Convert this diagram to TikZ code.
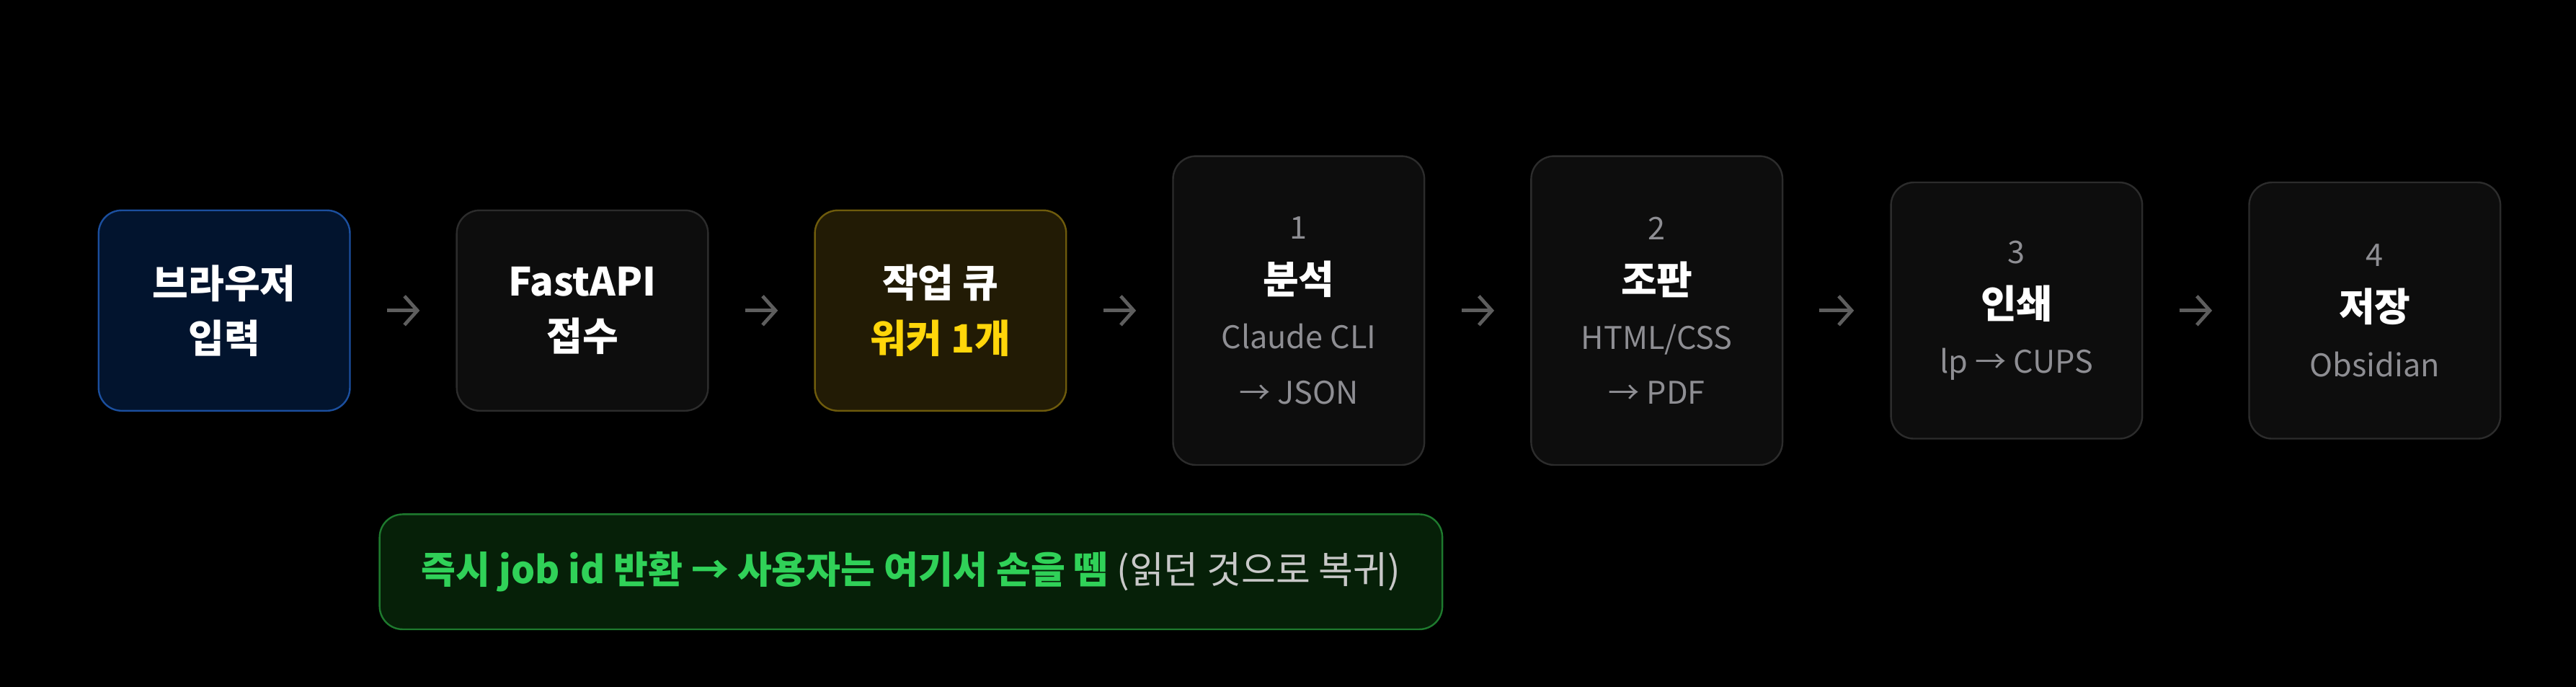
\documentclass[tikz,border=0pt]{standalone}
\usepackage{fontspec}
\setmainfont{Noto Sans CJK KR}
\usetikzlibrary{arrows.meta}
\definecolor{bgc}{HTML}{000000}
\definecolor{boxfill}{HTML}{0D0D0D}
\definecolor{boxline}{HTML}{2C2C2C}
\definecolor{bluefill}{HTML}{02142E}
\definecolor{blueline}{HTML}{1B4F9E}
\definecolor{yelfill}{HTML}{221B05}
\definecolor{yelline}{HTML}{6E5B0C}
\definecolor{yeltext}{HTML}{FFD60A}
\definecolor{grnfill}{HTML}{062008}
\definecolor{grnline}{HTML}{1E7A2E}
\definecolor{grntext}{HTML}{30D158}
\definecolor{subtext}{HTML}{8E8E93}
\definecolor{arrowc}{HTML}{5E5E5E}
\tikzset{
  stage/.style={draw=boxline, fill=boxfill, rounded corners=0.28cm, line width=0.6pt,
    minimum width=3.06cm, align=center, text=white, font=\fontsize{10.8}{19}\selectfont},
  short/.style={stage, minimum height=2.44cm},
  tall/.style={stage, minimum height=3.76cm},
  mid/.style={stage, minimum height=3.12cm},
  flow/.style={draw=arrowc, line width=1.2pt, -{Straight Barb[length=4.5pt,width=10pt]},
    shorten <=0.44cm, shorten >=0.44cm},
}
\newcommand{\ttl}[1]{{\fontsize{13.5}{22}\selectfont\bfseries #1}}
\newcommand{\sub}[1]{{\color{subtext}#1}}
\begin{document}
\begin{tikzpicture}[x=0.02cm,y=-0.02cm]
\fill[bgc] (0,0) rectangle (1568,418);
\useasboundingbox (0,0) rectangle (1568,418);

\node[short, draw=blueline, fill=bluefill] (browser) at (136.5,189) {\ttl{브라우저}\\\ttl{입력}};
\node[short] (api) at (354.5,189) {\ttl{FastAPI}\\\ttl{접수}};
\node[short, draw=yelline, fill=yelfill] (queue) at (572.5,189) {\ttl{작업 큐}\\\ttl{\color{yeltext}워커 1개}};
\node[tall] (parse) at (790.5,189) {\sub{1}\\\ttl{분석}\\\sub{Claude CLI}\\\sub{→ JSON}};
\node[tall] (layout) at (1008.5,189) {\sub{2}\\\ttl{조판}\\\sub{HTML/CSS}\\\sub{→ PDF}};
\node[mid] (print) at (1227.5,189) {\sub{3}\\\ttl{인쇄}\\\sub{lp → CUPS}};
\node[mid] (save) at (1445.5,189) {\sub{4}\\\ttl{저장}\\\sub{Obsidian}};

\node[draw=grnline, fill=grnfill, rounded corners=0.28cm, line width=0.6pt,
  minimum width=12.94cm, minimum height=1.4cm, font=\fontsize{13}{16}\selectfont]
  (note) at (554.5,348) {\textbf{\color{grntext}즉시 job id 반환 → 사용자는 여기서 손을 뗌} {\color[HTML]{C8C8C8}(읽던 것으로 복귀)}};

\path[flow] (browser) -- (api);
\path[flow] (api) -- (queue);
\path[flow] (queue) -- (parse);
\path[flow] (parse) -- (layout);
\path[flow] (layout) -- (print);
\path[flow] (print) -- (save);
\end{tikzpicture}
\end{document}
